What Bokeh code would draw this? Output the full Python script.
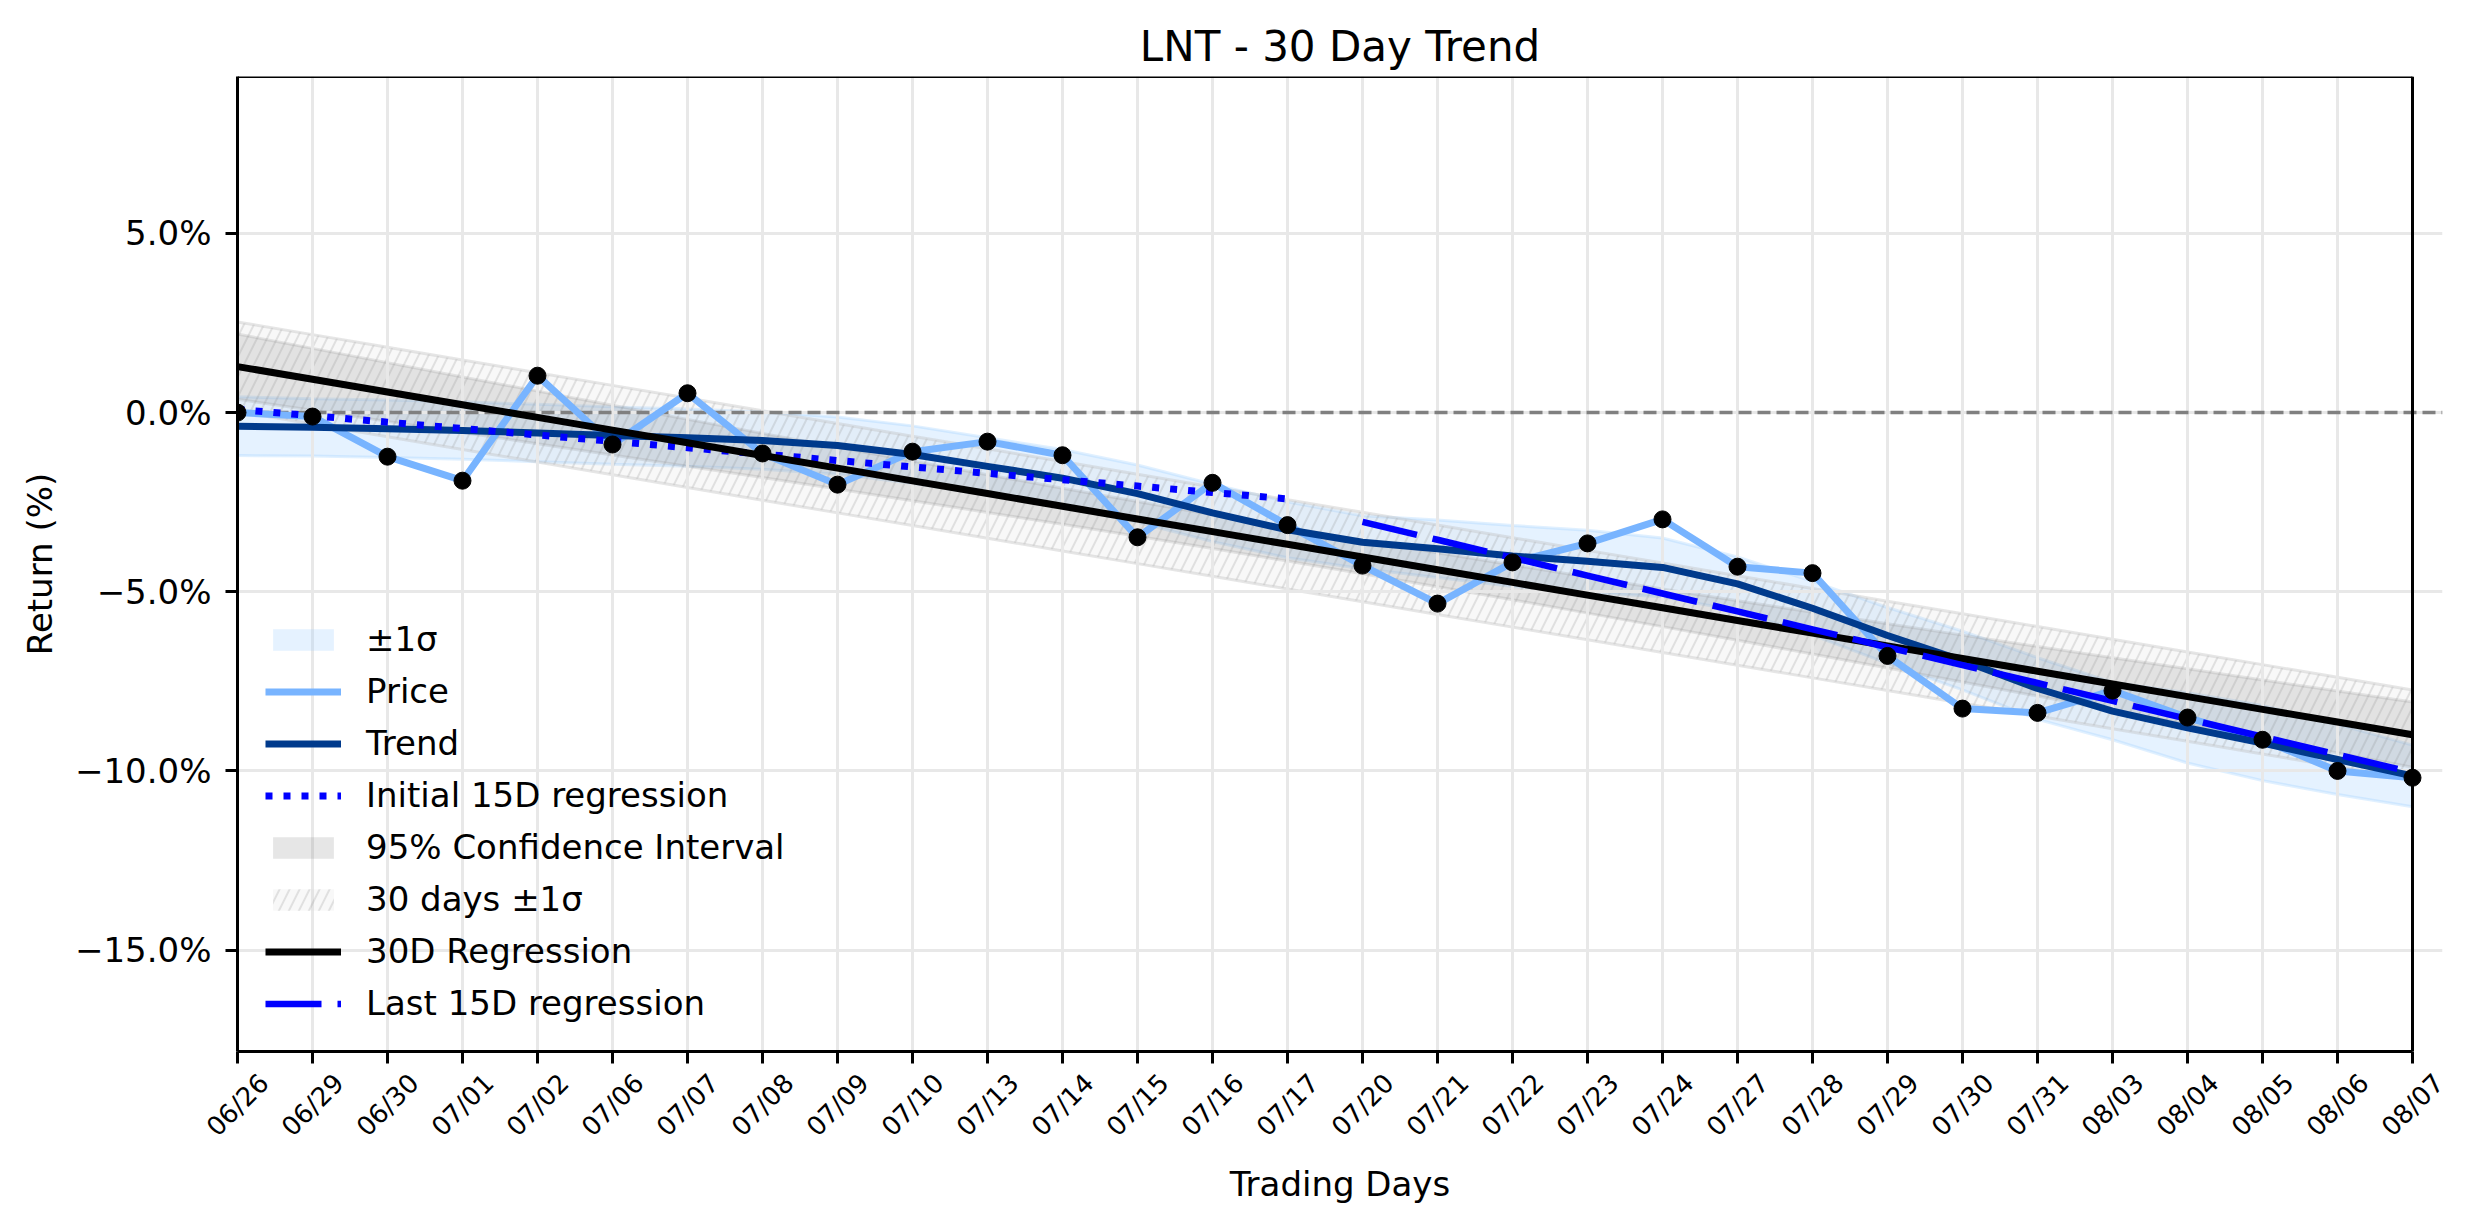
import math
import numpy as np
from bokeh.plotting import figure
from bokeh.models import (Range1d, FixedTicker, LinearAxis, Grid, Legend, LegendItem,
                          ColumnDataSource, CustomLabelingPolicy)
from bokeh.embed import file_html
from bokeh.resources import INLINE

# ---------------- data ----------------
dates = ["06/26", "06/29", "06/30", "07/01", "07/02", "07/06", "07/07", "07/08", "07/09", "07/10",
         "07/13", "07/14", "07/15", "07/16", "07/17", "07/20", "07/21", "07/22", "07/23", "07/24",
         "07/27", "07/28", "07/29", "07/30", "07/31", "08/03", "08/04", "08/05", "08/06", "08/07"]

price = [0.00, -0.11, -1.23, -1.90, 1.03, -0.89, 0.54, -1.14, -2.01, -1.09,
         -0.81, -1.19, -3.48, -1.96, -3.14, -4.27, -5.33, -4.18, -3.65, -2.98,
         -4.30, -4.48, -6.79, -8.26, -8.38, -7.76, -8.51, -9.13, -10.00, -10.19]

trend = [-0.38, -0.41, -0.45, -0.50, -0.57, -0.64, -0.70, -0.78, -0.92, -1.17,
         -1.50, -1.83, -2.26, -2.80, -3.27, -3.62, -3.80, -4.00, -4.15, -4.32,
         -4.78, -5.46, -6.22, -6.92, -7.70, -8.33, -8.80, -9.22, -9.68, -10.14]

# half-width of the light-blue ±1σ band around the trend
trend_sigma = [0.82, 0.80, 0.80, 0.80, 0.80, 0.80, 0.80, 0.80, 0.80, 0.80,
               0.80, 0.80, 0.80, 0.80, 0.78, 0.74, 0.80, 0.85, 0.87, 0.82,
               0.75, 0.75, 0.78, 0.82, 0.86, 0.80, 0.98, 1.05, 0.98, 0.86]

y_ticks = [-15, -10, -5, 0, 5]
y_tick_labels = ["\u221215.0%", "\u221210.0%", "\u22125.0%", "0.0%", "5.0%"]

T_95 = 2.048  # Student t, 28 dof
FONT = "DejaVu Sans"

# ---------------- derived series ----------------
n = len(price)
xs = np.arange(n, dtype=float)
pa = np.array(price)
ta = np.array(trend)
sa = np.array(trend_sigma)

b, a = np.polyfit(xs, pa, 1)
fit = a + b * xs
res = pa - fit
s = np.sqrt(np.sum(res ** 2) / (n - 2))
xm = xs.mean()
se = s * np.sqrt(1.0 / n + (xs - xm) ** 2 / np.sum((xs - xm) ** 2))

half = n // 2
b1, a1 = np.polyfit(xs[:half], pa[:half], 1)
b2, a2 = np.polyfit(xs[half:], pa[half:], 1)

src = ColumnDataSource(dict(
    x=xs, price=pa, trend=ta, up=ta + sa, lo=ta - sa,
    fit=fit, ci_hi=fit + T_95 * se, ci_lo=fit - T_95 * se,
    sd_hi=fit + s, sd_lo=fit - s))
src1 = ColumnDataSource(dict(x=xs[:half], y=a1 + b1 * xs[:half]))
src2 = ColumnDataSource(dict(x=xs[half:], y=a2 + b2 * xs[half:]))

# ---------------- figure ----------------
# The canvas frame runs a little past the last day so that the last rotated
# date label (centred under its tick) still falls inside the axis range; the
# visible box is drawn with spines bounded to the data span.
W, H = 2456, 1206
LEFT, TOP, BOTTOM = 237, 76, 1051
PX_PER_DAY = 75.0
EXT = 0.4
frame_w = PX_PER_DAY * (n - 1 + EXT)
Y0, Y1 = -17.83, 9.38
p = figure(width=W, height=H, output_backend="svg", toolbar_location=None,
           x_range=Range1d(0, n - 1 + EXT), y_range=Range1d(Y0, Y1),
           min_border_left=LEFT, min_border_right=int(round(W - LEFT - frame_w)),
           min_border_top=TOP, min_border_bottom=H - BOTTOM,
           background_fill_color="white", border_fill_color="white")
p.outline_line_color = None

p.title.text = "LNT - 30 Day Trend"
p.title.align = "center"
p.title.offset = -int(round(EXT * PX_PER_DAY / 2))
p.title.text_font = FONT
p.title.text_font_size = "42px"
p.title.text_font_style = "normal"
p.title.text_color = "black"
p.title.standoff = 12

for g in (p.xgrid[0], p.ygrid[0]):
    g.grid_line_color = "#e8e8e8"
    g.grid_line_width = 3
    g.level = "underlay"
p.xgrid[0].ticker = FixedTicker(ticks=list(range(n)))
p.ygrid[0].ticker = FixedTicker(ticks=y_ticks)
p.ygrid[0].bounds = (0, n - 1)

# zero reference line
zero = Grid(dimension=1, ticker=FixedTicker(ticks=[0]), bounds=(0, n - 1),
            grid_line_color="#808080", grid_line_width=3.5, grid_line_dash="13 6",
            level="underlay")
p.add_layout(zero)

NO_LABELS = "return new Set()"

# y axis
ya = p.yaxis[0]
ya.ticker = FixedTicker(ticks=y_ticks)
ya.major_label_overrides = {t: l for t, l in zip(y_ticks, y_tick_labels)}
ya.major_label_text_font = FONT
ya.major_label_text_font_size = "34px"
ya.major_label_text_color = "black"
ya.major_tick_out = 12
ya.major_tick_in = 0
ya.minor_tick_out = 0
ya.minor_tick_in = 0
ya.major_tick_line_width = 3
ya.major_label_standoff = 14
ya.axis_line_width = 3
ya.axis_label = "Return (%)"
ya.axis_label_text_font = FONT
ya.axis_label_text_font_size = "34px"
ya.axis_label_text_font_style = "normal"
ya.axis_label_text_color = "black"
ya.axis_label_standoff = 12

# x axis: tick marks only, bounded to the data span
xa = p.xaxis[0]
xa.ticker = FixedTicker(ticks=list(range(n)))
xa.bounds = (0, n - 1)
xa.major_label_policy = CustomLabelingPolicy(code=NO_LABELS)
xa.major_label_standoff = 0
xa.major_tick_out = 12
xa.major_tick_in = 0
xa.minor_tick_out = 0
xa.minor_tick_in = 0
xa.major_tick_line_width = 3
xa.axis_line_width = 3

# right and top spines
right_spine = LinearAxis(fixed_location=n - 1, ticker=FixedTicker(ticks=[]),
                         major_label_policy=CustomLabelingPolicy(code=NO_LABELS),
                         major_tick_out=0, major_tick_in=0, minor_tick_out=0,
                         minor_tick_in=0, axis_line_width=3, axis_line_color="black")
p.add_layout(right_spine, "right")
top_spine = LinearAxis(fixed_location=Y1, bounds=(0, n - 1), ticker=FixedTicker(ticks=[]),
                       major_label_policy=CustomLabelingPolicy(code=NO_LABELS),
                       major_tick_out=0, major_tick_in=0, minor_tick_out=0,
                       minor_tick_in=0, axis_line_width=3, axis_line_color="black")
p.add_layout(top_spine, "above")

# rotated date labels, centred under their ticks (second axis on a shifted range)
shift = 0.354
p.extra_x_ranges = {"lab": Range1d(-shift, n - 1 + EXT - shift)}
ax2 = LinearAxis(x_range_name="lab", ticker=FixedTicker(ticks=list(range(n))))
ax2.major_label_overrides = {i: d for i, d in enumerate(dates)}
ax2.major_label_orientation = math.pi / 4
ax2.major_label_text_font = FONT
ax2.major_label_text_font_size = "26px"
ax2.major_label_text_color = "black"
ax2.major_label_standoff = 4
ax2.major_tick_out = 0
ax2.major_tick_in = 0
ax2.minor_tick_out = 0
ax2.minor_tick_in = 0
ax2.axis_line_color = None
ax2.axis_label = "Trading Days"
ax2.axis_label_text_font = FONT
ax2.axis_label_text_font_size = "34px"
ax2.axis_label_text_font_style = "normal"
ax2.axis_label_text_color = "black"
ax2.axis_label_standoff = 8
p.add_layout(ax2, "below")

# ---------------- glyphs ----------------
r_band = p.varea(x="x", y1="lo", y2="up", source=src, fill_color="#99ccff",
                 fill_alpha=0.25, level="image")
p.line(x="x", y="up", source=src, line_color="#99ccff", line_alpha=0.3,
       line_width=3, level="image")
p.line(x="x", y="lo", source=src, line_color="#99ccff", line_alpha=0.3,
       line_width=3, level="image")

r_ci = p.varea(x="x", y1="ci_lo", y2="ci_hi", source=src, fill_color="#808080",
               fill_alpha=0.2, level="image")
p.line(x="x", y="ci_hi", source=src, line_color="#808080", line_alpha=0.2,
       line_width=3, level="image")
p.line(x="x", y="ci_lo", source=src, line_color="#808080", line_alpha=0.2,
       line_width=3, level="image")

r_sd = p.varea(x="x", y1="sd_lo", y2="sd_hi", source=src, fill_color="#d3d3d3",
               fill_alpha=0.15, hatch_pattern="/", hatch_color="#808080",
               hatch_alpha=0.2, hatch_weight=2, hatch_scale=20, level="image")
p.line(x="x", y="sd_hi", source=src, line_color="#c0c0c0", line_alpha=0.4,
       line_width=3, level="image")
p.line(x="x", y="sd_lo", source=src, line_color="#c0c0c0", line_alpha=0.4,
       line_width=3, level="image")

r_price = p.line(x="x", y="price", source=src, line_color="#78b4ff", line_width=7)
r_trend = p.line(x="x", y="trend", source=src, line_color="#003a8c", line_width=7)
r_init = p.line(x="x", y="y", source=src1, line_color="#0000ff", line_width=7,
                line_dash="7 11")
r_fit = p.line(x="x", y="fit", source=src, line_color="black", line_width=7)
r_last = p.line(x="x", y="y", source=src2, line_color="#0000ff", line_width=6.5,
                line_dash="56 16")
p.scatter(x="x", y="price", source=src, size=17, fill_color="black",
          line_color="black")

legend = Legend(items=[
    LegendItem(label="\u00b11\u03c3", renderers=[r_band]),
    LegendItem(label="Price", renderers=[r_price]),
    LegendItem(label="Trend", renderers=[r_trend]),
    LegendItem(label="Initial 15D regression", renderers=[r_init]),
    LegendItem(label="95% Confidence Interval", renderers=[r_ci]),
    LegendItem(label="30 days \u00b11\u03c3", renderers=[r_sd]),
    LegendItem(label="30D Regression", renderers=[r_fit]),
    LegendItem(label="Last 15D regression", renderers=[r_last]),
], location="bottom_left")
legend.background_fill_alpha = 0
legend.border_line_alpha = 0
legend.margin = 0
legend.padding = 28
legend.spacing = 12
legend.glyph_width = 76
legend.glyph_height = 27
legend.label_standoff = 25
legend.label_text_font = FONT
legend.label_text_font_size = "34px"
legend.label_text_color = "black"
p.add_layout(legend, "center")

open("out.html", "w").write(file_html(p, INLINE))
